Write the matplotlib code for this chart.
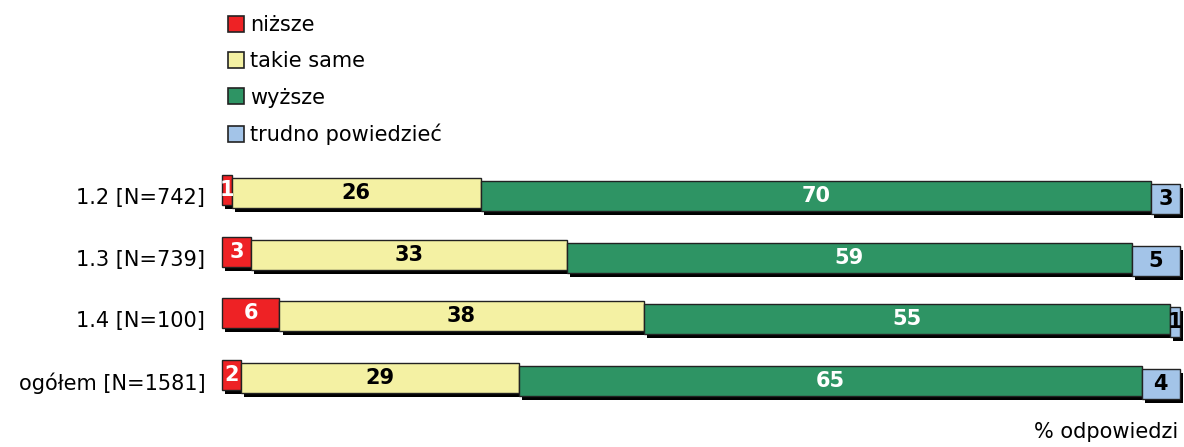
import matplotlib
matplotlib.use("Agg")
import matplotlib.pyplot as plt
import matplotlib.patheffects as pe
from matplotlib.lines import Line2D
import numpy as np

categories = ["1.2 [N=742]", "1.3 [N=739]", "1.4 [N=100]", "ogółem [N=1581]"]
series_names = ["niższe", "takie same", "wyższe", "trudno powiedzieć"]
nizsze = [1, 3, 6, 2]
takie_same = [26, 33, 38, 29]
wyzsze = [70, 59, 55, 65]
trudno = [3, 5, 1, 4]
colors = ["#EE2225", "#F4F1A3", "#2E9464", "#A3C4E8"]
text_colors = ["white", "black", "white", "black"]
xlabel = "% odpowiedzi"

plt.rcParams['font.family'] = ['DejaVu Sans']

W, H = 1184, 447
fig = plt.figure(figsize=(W / 100, H / 100), dpi=100)

row_px = 61.7
top_px = 196 - row_px / 2
ax_h_px = row_px * 4
left_px, right_px = 222, 1180
ax = fig.add_axes([left_px / W, 1 - (top_px + ax_h_px) / H,
                   (right_px - left_px) / W, ax_h_px / H])

data = [nizsze, takie_same, wyzsze, trudno]
n = len(categories)
y = np.arange(n)
bar_h = 30 / row_px
step = 3 / row_px
shadow = [pe.SimplePatchShadow(offset=(2.2, -2.9), shadow_rgbFace='black', alpha=1.0),
          pe.Normal()]

left = np.zeros(n)
for k, (vals, col, tc) in enumerate(zip(data, colors, text_colors)):
    vals = np.array(vals, dtype=float)
    yy = y + (k - 2) * step
    bars = ax.barh(yy, vals, left=left, height=bar_h, color=col,
                   edgecolor='#222222', linewidth=1.0, zorder=2 + k, clip_on=False)
    for b in bars:
        b.set_path_effects(shadow)
    for i in range(n):
        ax.text(left[i] + vals[i] / 2, yy[i], f"{int(vals[i])}", ha='center', va='center',
                color=tc, fontsize=15, fontweight='bold', zorder=10)
    left += vals

ax.set_xlim(0, 100)
ax.set_ylim(n - 0.5, -0.5)
ax.set_yticks(y)
ax.set_yticklabels(categories, fontsize=15)
ax.tick_params(axis='y', length=0, pad=12)
ax.set_xticks([])
for s in ax.spines.values():
    s.set_visible(False)

handles = [Line2D([], [], marker='s', linestyle='none', markersize=11.5,
                  markerfacecolor=c, markeredgecolor='#222222', markeredgewidth=1.2)
           for c in colors]
fig.legend(handles, series_names, loc='upper left',
           bbox_to_anchor=(228 / W, 1 - 15 / H), frameon=False, fontsize=15,
           handlelength=0.75, handletextpad=0.3, labelspacing=0.78, borderpad=0,
           borderaxespad=0)

fig.text(1178 / W, 1 - 432 / H, xlabel, ha='right', va='center', fontsize=15)

fig.savefig("out.png", dpi=100)
